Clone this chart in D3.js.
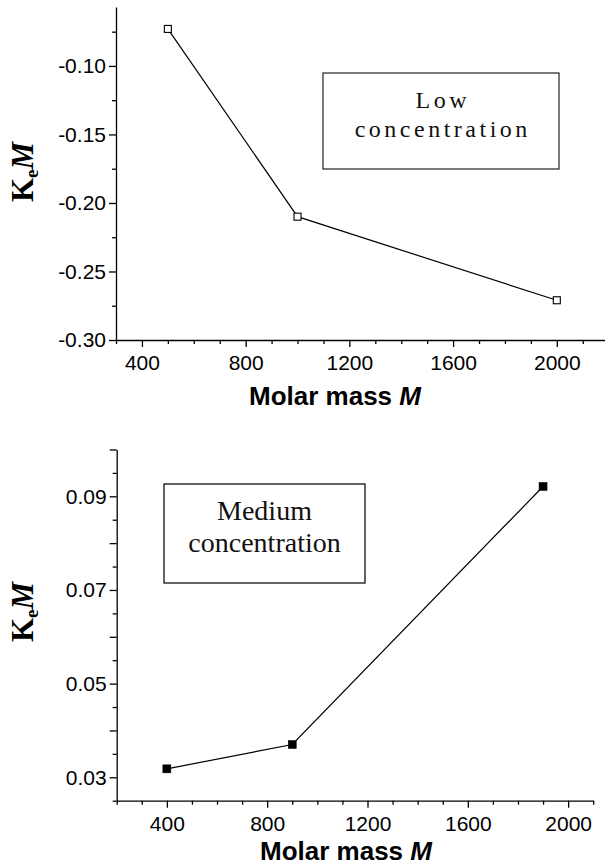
<!DOCTYPE html>
<html>
<head>
<meta charset="utf-8">
<script src="https://cdn.jsdelivr.net/npm/d3@7"></script>
<style>
  html, body { margin: 0; padding: 0; background: #fff; }
  svg { display: block; }
</style>
</head>
<body>
<svg id="chart" width="605" height="867"></svg>
<script>
// ---- data ----
const lowMolarMass = [500, 1000, 2000];
const lowKeM = [-0.073, -0.210, -0.271];
const medMolarMass = [400, 900, 1900];
const medKeM = [0.0318, 0.0370, 0.0921];

const xTickLabels = [400, 800, 1200, 1600, 2000];
const lowYTickLabels = [-0.30, -0.25, -0.20, -0.15, -0.10];
const medYTickLabels = [0.03, 0.05, 0.07, 0.09];

const lowLegend = ["Low", "concentration"];
const medLegend = ["Medium", "concentration"];
const xTitle = ["Molar mass ", "M"];
const yTitle = ["K", "e", "M"];

// ---- drawing ----
const svg = d3.select("#chart");
const SANS = "'Liberation Sans', Arial, Helvetica, sans-serif";
const SERIF = "'Liberation Serif', 'Times New Roman', serif";

function range(a, b, step) {
  const out = [];
  const n = Math.round((b - a) / step);
  for (let i = 0; i <= n; i++) out.push(+(a + i * step).toFixed(6));
  return out;
}

function panel(opts) {
  const g = svg.append("g");
  const x = d3.scaleLinear().domain(opts.xDomain).range(opts.xRange);
  const y = d3.scaleLinear().domain(opts.yDomain).range(opts.yRange);
  const x0 = opts.xRange[0], yB = opts.yRange[0];

  // x axis: minor ticks
  const xMinor = range(opts.xDomain[0], opts.xDomain[1], 100).filter(v => !opts.xMajor.includes(v));
  g.append("g").attr("transform", `translate(0,${yB})`)
    .call(d3.axisBottom(x).tickValues(xMinor).tickSize(4).tickSizeOuter(0).tickFormat(""))
    .call(a => a.select(".domain").remove());
  // x axis: major ticks with labels
  const xa = g.append("g").attr("transform", `translate(0,${yB})`)
    .call(d3.axisBottom(x).tickValues(opts.xMajor).tickSize(7).tickSizeOuter(0).tickPadding(8)
      .tickFormat(d => String(d)));
  xa.selectAll("text").attr("font-family", SANS).attr("font-size", 21).attr("fill", "#000");

  // y axis
  const yMinor = range(opts.yDomain[0], opts.yDomain[1], opts.yMinorStep).filter(v => !opts.yMajorTicks.some(m => Math.abs(m - v) < 1e-9));
  g.append("g").attr("transform", `translate(${x0},0)`)
    .call(d3.axisLeft(y).tickValues(yMinor).tickSize(4).tickSizeOuter(0).tickFormat(""))
    .call(a => a.select(".domain").remove());
  const ya = g.append("g").attr("transform", `translate(${x0},0)`)
    .call(d3.axisLeft(y).tickValues(opts.yMajorTicks).tickSize(7).tickSizeOuter(0).tickPadding(3)
      .tickFormat(d => opts.yLabels.some(m => Math.abs(m - d) < 1e-9) ? d.toFixed(2) : ""));
  ya.selectAll("text").attr("font-family", SANS).attr("font-size", 21).attr("fill", "#000");

  g.selectAll(".domain, .tick line").attr("stroke", "#000").attr("stroke-width", 1.3);

  // line
  const pts = opts.xs.map((v, i) => [v, opts.ys[i]]);
  g.append("path")
    .datum(pts)
    .attr("fill", "none").attr("stroke", "#000").attr("stroke-width", 1.2)
    .attr("d", d3.line().x(d => x(d[0])).y(d => y(d[1])));
  // markers
  const s = opts.markerSize;
  g.selectAll("rect.m").data(pts).join("rect")
    .attr("x", d => x(d[0]) - s / 2).attr("y", d => y(d[1]) - s / 2)
    .attr("width", s).attr("height", s)
    .attr("fill", opts.filled ? "#000" : "#fff")
    .attr("stroke", "#000").attr("stroke-width", opts.filled ? 0.5 : 1.1);

  // legend box
  const b = opts.box;
  g.append("rect").attr("x", b.x).attr("y", b.y).attr("width", b.w).attr("height", b.h)
    .attr("fill", "#fff").attr("stroke", b.stroke).attr("stroke-width", 1.3);
  opts.legend.forEach((t, i) => {
    g.append("text")
      .attr("x", b.x + b.w / 2 + (b.ls || 0) / 2).attr("y", b.baselines[i])
      .attr("text-anchor", "middle")
      .attr("font-family", SERIF).attr("font-size", b.fs)
      .attr("letter-spacing", b.ls || 0)
      .attr("fill", "#111")
      .text(t);
  });

  // x title
  const xt = g.append("text").attr("x", opts.xTitlePos[0]).attr("y", opts.xTitlePos[1])
    .attr("text-anchor", "middle").attr("font-family", SANS).attr("font-size", 26)
    .attr("font-weight", "bold").attr("fill", "#000");
  xt.append("tspan").text(xTitle[0]);
  xt.append("tspan").attr("font-style", "italic").text(xTitle[1]);

  // y title
  const yt = g.append("text")
    .attr("transform", `translate(${opts.yTitlePos[0]},${opts.yTitlePos[1]}) rotate(-90)`)
    .attr("text-anchor", "middle").attr("font-family", SERIF).attr("font-size", 31)
    .attr("font-weight", "bold").attr("fill", "#000");
  yt.append("tspan").text(yTitle[0]);
  yt.append("tspan").attr("font-size", 19).attr("dy", 5).text(yTitle[1]);
  yt.append("tspan").attr("font-style", "italic").attr("dy", -5).text(yTitle[2]);
}

panel({
  xDomain: [300, 2200], xRange: [116, 116 + 1900 * 0.2593],
  yDomain: [-0.30, -0.057], yRange: [340, 7],
  xMajor: xTickLabels,
  yMajorTicks: lowYTickLabels, yLabels: lowYTickLabels, yMinorStep: 0.025,
  xs: lowMolarMass, ys: lowKeM, markerSize: 7, filled: false,
  legend: lowLegend,
  box: { x: 323, y: 73, w: 236, h: 96, stroke: "#333", fs: 24, ls: 3.5, baselines: [108, 137] },
  xTitlePos: [335, 405], yTitlePos: [33, 172]
});

panel({
  xDomain: [200, 2100], xRange: [116.7, 116.7 + 1900 * 0.2508],
  yDomain: [0.025, 0.10], yRange: [800.7, 800.7 - 0.075 * 4683],
  xMajor: xTickLabels,
  yMajorTicks: [0.03, 0.04, 0.05, 0.06, 0.07, 0.08, 0.09, 0.10], yLabels: medYTickLabels, yMinorStep: 0.005,
  xs: medMolarMass, ys: medKeM, markerSize: 8, filled: true,
  legend: medLegend,
  box: { x: 164, y: 484, w: 201, h: 99, stroke: "#111", fs: 28, ls: 0, baselines: [520, 552] },
  xTitlePos: [346, 860], yTitlePos: [33, 612]
});
</script>
</body>
</html>
